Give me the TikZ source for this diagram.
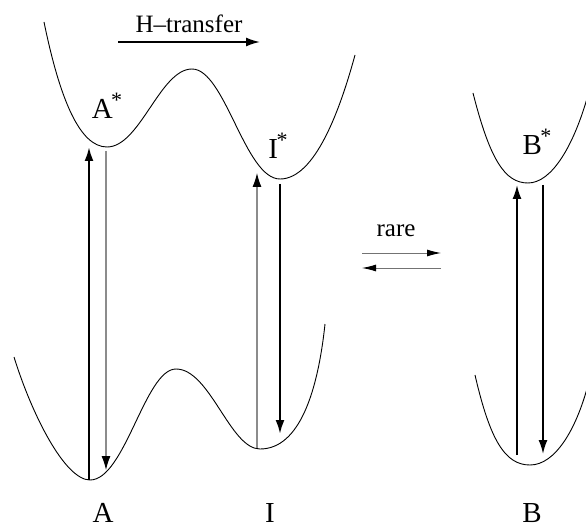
\documentclass[tikz,border=0pt]{standalone}
\usepackage{fontspec}
\setmainfont{Liberation Serif}
\usetikzlibrary{arrows.meta}
\newcommand{\bigstar}{\kern-1.5pt\raisebox{0.40em}{\fontsize{22}{22}\selectfont *}}
\begin{document}
\begin{tikzpicture}[x=1pt,y=-1pt,
  curve/.style={line width=0.9pt},
  thickarr/.style={line width=2.2pt,-{Latex[length=14pt,width=9pt]}},
  midarr/.style={line width=1.8pt,-{Latex[length=14pt,width=9pt]}},
  thinarr/.style={line width=1.1pt,black!45,-{Latex[length=14pt,width=9pt,color=black]}},
  rarearr/.style={line width=0.9pt,black!55,-{Latex[length=14pt,width=7pt,color=black]}},
  lbl/.style={font=\fontsize{29}{32}\selectfont,anchor=base,inner sep=0pt},
  small/.style={font=\fontsize{25}{28}\selectfont,anchor=base,inner sep=0pt}]
\useasboundingbox (0,0) rectangle (586,529);
\begin{scope}
\clip (0,0) rectangle (586,529);
% upper left surface
\draw[curve] (44,22) .. controls (60,100) and (80,147) .. (107,147)
  .. controls (140,147) and (160,69) .. (192,69)
  .. controls (225,69) and (245,179) .. (280,179)
  .. controls (315,179) and (340,110) .. (355,55);
% lower left surface
\draw[curve] (14,357) .. controls (32,415) and (65,480) .. (90,480)
  .. controls (125,480) and (145,369) .. (176,369)
  .. controls (210,369) and (230,449) .. (260,449)
  .. controls (300,449) and (318,390) .. (325,324);
% B* surface
\draw[curve] (473,93) .. controls (490,160) and (505,183) .. (528,183)
  .. controls (552,183) and (574,145) .. (588,95);
% B surface
\draw[curve] (475,375) .. controls (490,440) and (505,465) .. (530,465)
  .. controls (555,465) and (576,430) .. (588,385);
\end{scope}
% coordinates
\coordinate (a1) at (89,480); \coordinate (a2) at (89,147);
\coordinate (a3) at (106,151); \coordinate (a4) at (106,470);
\coordinate (i1) at (257,448); \coordinate (i2) at (257,173);
\coordinate (i3) at (280,184); \coordinate (i4) at (280,434);
\coordinate (b1) at (517,455); \coordinate (b2) at (517,185);
\coordinate (b3) at (543,185); \coordinate (b4) at (543,454);
\coordinate (h1) at (118,42); \coordinate (h2) at (260,42);
\coordinate (r1) at (362,253); \coordinate (r2) at (441,253);
\coordinate (r3) at (441,268); \coordinate (r4) at (362,268);
% transitions
\draw[thickarr] (a1) -- (a2);
\draw[thinarr] (a3) -- (a4);
\draw[thinarr] (i1) -- (i2);
\draw[thickarr] (i3) -- (i4);
\draw[midarr] (b1) -- (b2);
\draw[midarr] (b3) -- (b4);
\draw[thickarr,line width=1.8pt] (h1) -- (h2);
\draw[rarearr] (r1) -- (r2);
\draw[rarearr] (r3) -- (r4);
% labels
\node[small] (ht) at (189,33) {H–transfer};
\node[small] (rare) at (396,237) {rare};
\node[lbl] (As) at (107,119) {A\bigstar};
\node[lbl] (Is) at (278,159) {I\bigstar};
\node[lbl] (Bs) at (537,155) {B\bigstar};
\node[lbl] (A) at (103,522) {A};
\node[lbl] (I) at (270,522) {I};
\node[lbl] (B) at (532,522) {B};
\end{tikzpicture}
\end{document}
